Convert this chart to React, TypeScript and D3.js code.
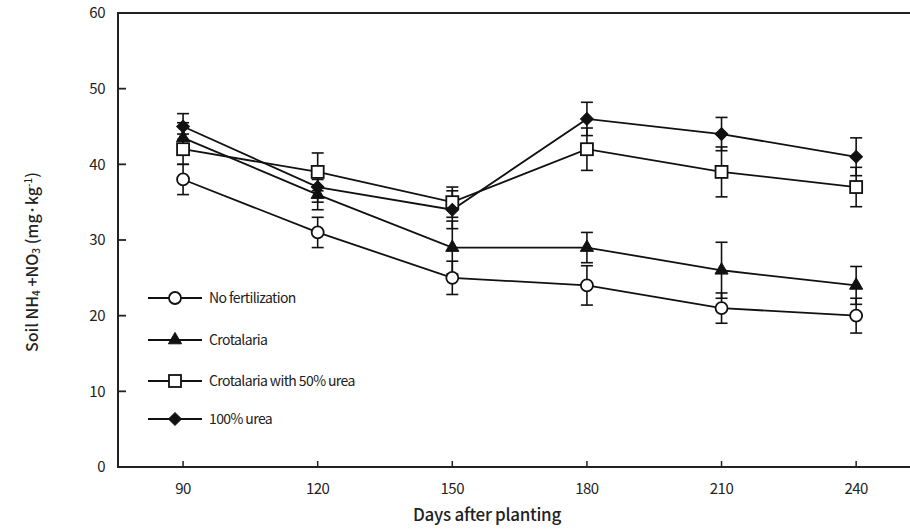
import React from 'react';
import * as d3 from 'd3';

const days = [90, 120, 150, 180, 210, 240];
const seriesNames = ['No fertilization', 'Crotalaria', 'Crotalaria with 50% urea', '100% urea'];
const markerTypes = ['circle', 'triangle', 'square', 'diamond'];

const noFert = [38, 31, 25, 24, 21, 20];
const noFertErr = [2, 2, 2.2, 2.6, 2, 2.3];
const crotalaria = [43.5, 36, 29, 29, 26, 24];
const crotalariaErr = [2, 2, 3.5, 2, 3.7, 2.5];
const crotUrea = [42, 39, 35, 42, 39, 37];
const crotUreaErr = [2, 2.5, 2, 2.8, 3.3, 2.6];
const urea = [45, 37, 34, 46, 44, 41];
const ureaErr = [1.7, 2, 2.5, 2.2, 2.2, 2.5];

const yTicks = [0, 10, 20, 30, 40, 50, 60];

const FONT = '"Noto Sans CJK KR", "Noto Sans", sans-serif';

const Marker = ({ type, x, y }: { type: string; x: number; y: number }) => {
  const sw = 1.8;
  if (type === 'circle') return <circle cx={x} cy={y} r={6} fill="#fff" stroke="#111" strokeWidth={sw} />;
  if (type === 'square') return <rect x={x - 6} y={y - 6} width={12} height={12} fill="#fff" stroke="#111" strokeWidth={sw} />;
  if (type === 'diamond') return <rect x={-4.5} y={-4.5} width={9} height={9} transform={`translate(${x},${y}) rotate(45)`} fill="#111" stroke="#111" strokeWidth={1} />;
  return <path d={d3.symbol().type(d3.symbolTriangle).size(75)() || ''} transform={`translate(${x},${y})`} fill="#111" stroke="#111" strokeWidth={1} />;
};

export default function App() {
  const width = 910;
  const height = 530;
  const left = 118, top = 13, bottom = 467, right = 910;

  const x = d3.scaleLinear().domain([75.5, 252]).range([left, right]);
  const y = d3.scaleLinear().domain([0, 60]).range([bottom, top]);

  const series = [
    { values: noFert, errs: noFertErr },
    { values: crotalaria, errs: crotalariaErr },
    { values: crotUrea, errs: crotUreaErr },
    { values: urea, errs: ureaErr },
  ];

  const line = d3.line<number>().x((_, i) => x(days[i])).y(d => y(d));

  const legendY = [298, 340, 381, 419];

  return (
    <svg width={width} height={height} style={{ position: 'absolute', left: 0, top: 0, background: '#fff' }} fontFamily={FONT}>
      {/* axes frame: left, top, bottom */}
      <path d={`M${right},${top}H${left}V${bottom}H${right}`} fill="none" stroke="#222" strokeWidth={2} />
      {yTicks.map(t => (
        <g key={t}>
          {t > 0 && t < 60 && <line x1={left} x2={left + 8} y1={y(t)} y2={y(t)} stroke="#222" strokeWidth={1.8} />}
          <text x={105} y={y(t)} dy="0.35em" textAnchor="end" fontSize={15} fill="#222" letterSpacing={-0.5}>{t}</text>
        </g>
      ))}
      {days.map(d => (
        <g key={d}>
          <line x1={x(d)} x2={x(d)} y1={bottom} y2={bottom - 6} stroke="#222" strokeWidth={1.5} />
          <text x={x(d)} y={bottom + 27} textAnchor="middle" fontSize={15} fill="#222" letterSpacing={-0.5}>{d}</text>
        </g>
      ))}
      <text x={487} y={521} textAnchor="middle" fontSize={17} fontWeight={500} fill="#222" letterSpacing={-0.3}>Days after planting</text>
      <text transform="translate(38,262) rotate(-90)" textAnchor="middle" fontSize={16} fontWeight={500} fill="#222">
        Soil NH<tspan fontSize={10} dy={2}>4</tspan><tspan dy={-2}> +NO</tspan><tspan fontSize={10} dy={2}>3</tspan>
        <tspan dy={-2}> (mg·kg</tspan><tspan fontSize={10} dy={-6}>-1</tspan><tspan dy={6}>)</tspan>
      </text>

      {series.map((s, si) => (
        <g key={si}>
          {s.values.map((v, i) => (
            <g key={i} stroke="#111" strokeWidth={1.6}>
              <line x1={x(days[i])} x2={x(days[i])} y1={y(v - s.errs[i])} y2={y(v + s.errs[i])} />
              <line x1={x(days[i]) - 6} x2={x(days[i]) + 6} y1={y(v - s.errs[i])} y2={y(v - s.errs[i])} />
              <line x1={x(days[i]) - 6} x2={x(days[i]) + 6} y1={y(v + s.errs[i])} y2={y(v + s.errs[i])} />
            </g>
          ))}
        </g>
      ))}
      {series.map((s, si) => (
        <path key={si} d={line(s.values) || ''} fill="none" stroke="#111" strokeWidth={1.8} />
      ))}
      {series.map((s, si) => (
        <g key={si}>
          {s.values.map((v, i) => <Marker key={i} type={markerTypes[si]} x={x(days[i])} y={y(v)} />)}
        </g>
      ))}

      {seriesNames.map((name, i) => (
        <g key={name}>
          <line x1={148} x2={202} y1={legendY[i]} y2={legendY[i]} stroke="#111" strokeWidth={1.8} />
          <Marker type={markerTypes[i]} x={175} y={legendY[i]} />
          <text x={209} y={legendY[i]} dy="0.35em" fontSize={14} fill="#222" letterSpacing={-0.6}>{name}</text>
        </g>
      ))}
    </svg>
  );
}
